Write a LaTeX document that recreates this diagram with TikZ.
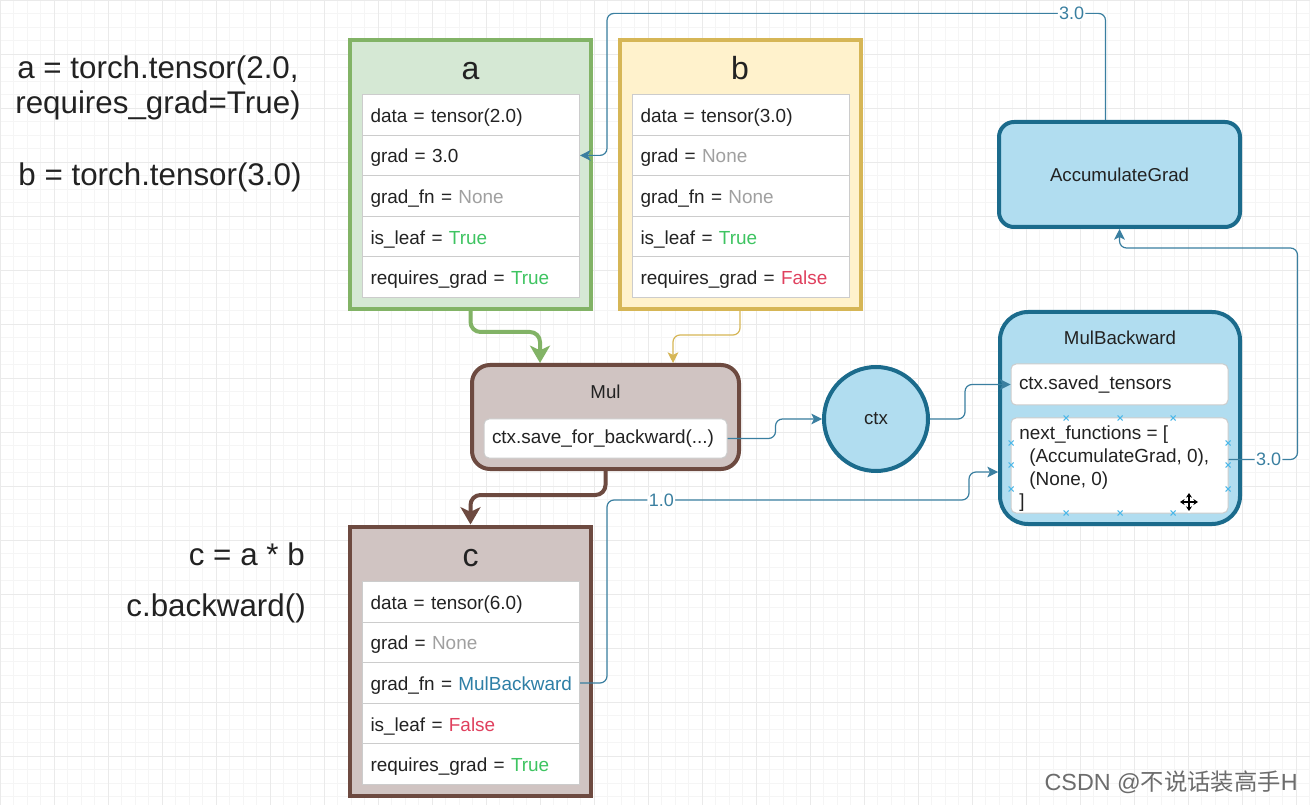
\documentclass[tikz,border=0pt]{standalone}
\usepackage{fontspec}
\setmainfont{Liberation Sans}
\newfontfamily\cjkfont{Noto Sans CJK SC}
\usetikzlibrary{arrows.meta,calc}
\definecolor{gfill}{HTML}{D5E8D4}
\definecolor{gline}{HTML}{82B366}
\definecolor{yfill}{HTML}{FFF2CC}
\definecolor{yline}{HTML}{D6B656}
\definecolor{brfill}{HTML}{D0C4C2}
\definecolor{brline}{HTML}{6D4A40}
\definecolor{bfill}{HTML}{B1DDF0}
\definecolor{bline}{HTML}{1B6B8C}
\definecolor{conn}{HTML}{3A7FA0}
\definecolor{rowgray}{HTML}{CCCCCC}
\definecolor{txt}{HTML}{222222}
\definecolor{nonegray}{HTML}{A0A0A0}
\definecolor{truegreen}{HTML}{3EC461}
\definecolor{falsered}{HTML}{E0405E}
\definecolor{mbblue}{HTML}{2E7FA6}
\definecolor{gridminor}{HTML}{F5F5F5}
\definecolor{gridmajor}{HTML}{EAEAEA}
\definecolor{xmarkc}{HTML}{4DB8E8}
\newcommand\rowfont{\fontsize{14.2pt}{17pt}\selectfont}
\newcommand\codefont{\fontsize{23.5pt}{28pt}\selectfont}
\newcommand\titlefont{\fontsize{24pt}{28pt}\selectfont}
\newcommand\labfont{\fontsize{14pt}{17pt}\selectfont}
\newcommand\edgefont{\fontsize{13.5pt}{16pt}\selectfont}
\begin{document}
\begin{tikzpicture}[x=0.75pt,y=-0.75pt,
  row/.style={draw=rowgray, fill=white, line width=0.75pt,
    minimum width=217*0.75pt, minimum height=40.6*0.75pt,
    text width=201*0.75pt, inner xsep=8*0.75pt, inner ysep=0pt,
    text height=14.5pt, text depth=3.2pt,
    align=left, font=\rowfont, text=txt, anchor=north west},
  tbox/.style={line width=3pt, minimum width=241*0.75pt, minimum height=269*0.75pt},
  title/.style={font=\titlefont, text=txt, text height=17pt, text depth=0.3pt},
  code/.style={font=\codefont, text=txt, inner sep=0pt},
  lab/.style={font=\labfont, text=txt},
  bluebox/.style={draw=bline, fill=bfill, line width=3pt},
  inbox/.style={draw=rowgray, fill=white, line width=0.75pt, rounded corners=5*0.75pt,
    minimum width=217*0.75pt},
  thin/.style={draw=conn, line width=0.9pt, rounded corners=7*0.75pt,
    -{Stealth[length=8pt,width=8pt,inset=2pt]}},
  thickg/.style={draw=gline, line width=3pt, rounded corners=10*0.75pt,
    -{Stealth[length=13pt,width=15pt,inset=3.5pt]}},
  thickbr/.style={draw=brline, line width=3pt, rounded corners=10*0.75pt,
    -{Stealth[length=13pt,width=15pt,inset=3.5pt]}},
  thiny/.style={draw=yline, line width=0.9pt, rounded corners=7*0.75pt,
    -{Stealth[length=8pt,width=8pt,inset=2pt]}},
  elab/.style={font=\edgefont, text=conn, fill=white, inner sep=1pt},
  xm/.style={draw=xmarkc, line width=0.8pt}
]
\useasboundingbox (0,0) rectangle (1310,805);
\fill[white] (0,0) rectangle (1310,805);
\draw[gridminor, line width=0.5pt, step=10.125pt] (0,0) grid (1310,805);
\draw[gridmajor, line width=0.5pt, step=40.5pt] (0,0) grid (1310,805);

% left code text
\node[code] (la1) at (158,70) {a = torch.tensor(2.0,};
\node[code] (la2) at (158,105) {requires\_grad=True)};
\node[code] (lb) at (160,177) {b = torch.tensor(3.0)};
\node[code, anchor=east] (lc1) at (305,554) {c = a * b};
\node[code, anchor=east] (lc2) at (306,608) {c.backward()};

% tensor a
\node[tbox, draw=gline, fill=gfill] (abox) at (470.5,174.5) {};
\node[title] (at) at (470.5,68) {a};
\node[row] (a1) at (362,94) {\mbox{data = tensor(2.0)}};
\node[row] (a2) at (362,134.6) {\mbox{grad = 3.0}};
\node[row] (a3) at (362,175.2) {\mbox{grad\_fn = \textcolor{nonegray}{None}}};
\node[row] (a4) at (362,215.8) {\mbox{is\_leaf = \textcolor{truegreen}{True}}};
\node[row] (a5) at (362,256.4) {\mbox{requires\_grad = \textcolor{truegreen}{True}}};

% tensor b
\node[tbox, draw=yline, fill=yfill] (bbox) at (740,174.5) {};
\node[title] (bt) at (740,68) {b};
\node[row] (b1) at (632,94) {\mbox{data = tensor(3.0)}};
\node[row] (b2) at (632,134.6) {\mbox{grad = \textcolor{nonegray}{None}}};
\node[row] (b3) at (632,175.2) {\mbox{grad\_fn = \textcolor{nonegray}{None}}};
\node[row] (b4) at (632,215.8) {\mbox{is\_leaf = \textcolor{truegreen}{True}}};
\node[row] (b5) at (632,256.4) {\mbox{requires\_grad = \textcolor{falsered}{False}}};

% tensor c
\node[tbox, draw=brline, fill=brfill] (cbox) at (470.5,661) {};
\node[title] (ct) at (470.5,555) {c};
\node[row] (c1) at (362,581) {\mbox{data = tensor(6.0)}};
\node[row] (c2) at (362,621.6) {\mbox{grad = \textcolor{nonegray}{None}}};
\node[row] (c3) at (362,662.2) {\mbox{grad\_fn = \textcolor{mbblue}{MulBackward}}};
\node[row] (c4) at (362,702.8) {\mbox{is\_leaf = \textcolor{falsered}{False}}};
\node[row] (c5) at (362,743.4) {\mbox{requires\_grad = \textcolor{truegreen}{True}}};

% Mul
\node[draw=brline, fill=brfill, line width=3pt, rounded corners=18*0.75pt,
  minimum width=267*0.75pt, minimum height=104*0.75pt] (mul) at (605.5,417) {};
\node[lab] (mult) at (605.5,392) {Mul};
\node[inbox, minimum width=243*0.75pt, minimum height=39*0.75pt, text width=227*0.75pt,
  inner xsep=8*0.75pt, align=left, font=\rowfont, text=txt] (sfb) at (605.5,438.5) {\mbox{ctx.save\_for\_backward(...)}};

% ctx
\node[bluebox, circle, minimum size=104*0.75pt, inner sep=0pt, font=\labfont, text=txt] (ctx) at (876,419) {ctx};

% MulBackward
\node[bluebox, rounded corners=28*0.75pt, minimum width=240*0.75pt, minimum height=212*0.75pt] (mb) at (1120,418) {};
\node[lab] (mbt) at (1120,338) {MulBackward};
\node[inbox, minimum height=41*0.75pt, text width=201*0.75pt, inner xsep=8*0.75pt,
  align=left, font=\rowfont, text=txt] (sts) at (1119.5,384.5) {ctx.saved\_tensors};
\node[inbox, minimum height=95*0.75pt] (nf) at (1119.5,465.5) {};
\node[anchor=north west, align=left, font=\rowfont, text=txt, inner sep=0pt] (nft) at (1019,426)
  {next\_functions = [\\\hspace*{7.5pt}(AccumulateGrad, 0),\\\hspace*{7.5pt}(None, 0)\\]};

% AccumulateGrad
\node[bluebox, rounded corners=15*0.75pt, minimum width=241*0.75pt, minimum height=105*0.75pt,
  font=\labfont, text=txt] (acc) at (1119.5,174.5) {AccumulateGrad};

% connectors
\draw[thickg] (abox.south) -- ++(0,21) -| ($(mul.north)+(-65.5,0)$);
\draw[thiny] (bbox.south) -- ++(0,24) -| ($(mul.north)+(67.5,0)$);
\draw[thickbr] (mul.south) -- ++(0,24) -| (cbox.north);
\draw[thin] (sfb.east) -- ++(48,0) |- (ctx.west);
\draw[thin] (ctx.east) -- ++(35,0) |- (sts.west);
\draw[thin] (c3.east) -- ++(27,0) -- ++(0,-183)
  -- node[elab, pos=0.15] {1.0} ++(362,0) -- ++(0,-28) -- ($(mb.west)+(0,54)$);
\draw[thin] ($(nf.east)+(0,-6)$) -- node[elab, pos=0.58] {3.0} ++(69,0)
  |- ($(acc.south)+(0,19)$) -- (acc.south);
\draw[thin] ($(acc.north)+(-14,0)$) |- node[elab, pos=0.534] {3.0} ($(a2.east)+(27,-142)$)
  -- ($(a2.east)+(27,0)$) -- (a2.east);

% selection markers on next_functions box
\foreach \px/\py in {1066/418,1120/418,1173/418,1066/513,1120/513,1173/513,
  1011/443,1011/465,1011/489,1228/443,1228/465,1228/489}
  \draw[xm] (\px-2.5,\py-2.5) -- (\px+2.5,\py+2.5) (\px-2.5,\py+2.5) -- (\px+2.5,\py-2.5);

% move cursor
\begin{scope}[shift={(1189,502)}]
  \draw[white, line width=3pt, line cap=round] (-9,0) -- (9,0) (0,-9) -- (0,9);
  \draw[black, line width=1.2pt, {Stealth[length=3.5pt,width=4.5pt]}-{Stealth[length=3.5pt,width=4.5pt]}] (-9,0) -- (9,0);
  \draw[black, line width=1.2pt, {Stealth[length=3.5pt,width=4.5pt]}-{Stealth[length=3.5pt,width=4.5pt]}] (0,-9) -- (0,9);
\end{scope}

% watermark
\node[anchor=east, font=\fontsize{17.5pt}{20pt}\selectfont, text=gray!85!black, inner sep=0pt] (wm) at (1298,782) {CSDN @{\cjkfont 不说话装高手}H};
\end{tikzpicture}
\end{document}
